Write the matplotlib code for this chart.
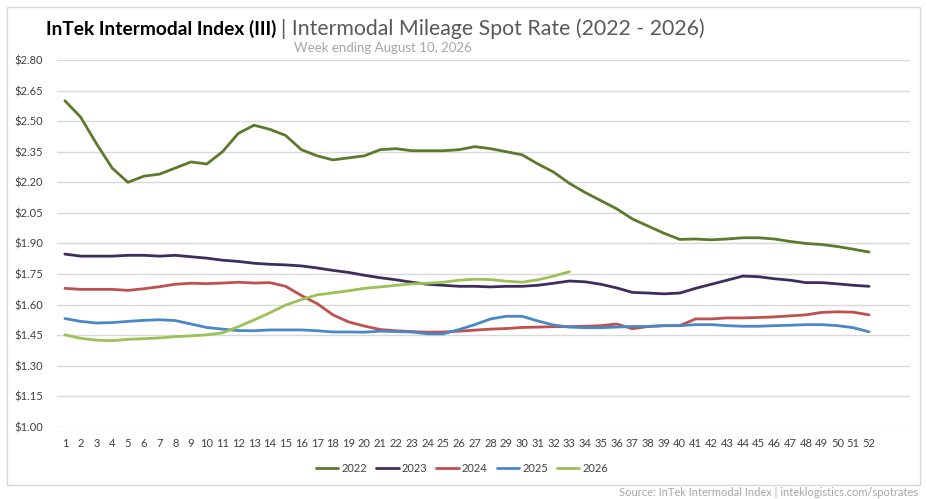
import matplotlib
matplotlib.use("Agg")
import matplotlib.pyplot as plt
from matplotlib.patches import Rectangle
from matplotlib.ticker import FuncFormatter

# weeks and yearly spot rates ($ per mile)
weeks = list(range(1, 53))

rate_2022 = [2.60, 2.52, 2.39, 2.27, 2.20, 2.23, 2.24, 2.27, 2.30, 2.29,
             2.35, 2.44, 2.48, 2.46, 2.43, 2.36, 2.33, 2.31, 2.32, 2.33,
             2.36, 2.365, 2.355, 2.355, 2.355, 2.36, 2.375, 2.365, 2.35, 2.335,
             2.29, 2.25, 2.195, 2.15, 2.11, 2.07, 2.02, 1.985, 1.95, 1.92,
             1.922, 1.918, 1.922, 1.928, 1.928, 1.922, 1.91, 1.90, 1.895, 1.885,
             1.872, 1.858]
rate_2023 = [1.848, 1.838, 1.838, 1.838, 1.842, 1.842, 1.838, 1.842, 1.835, 1.828,
             1.818, 1.812, 1.803, 1.798, 1.795, 1.79, 1.78, 1.768, 1.758, 1.744,
             1.732, 1.722, 1.71, 1.70, 1.695, 1.69, 1.69, 1.687, 1.69, 1.69,
             1.695, 1.705, 1.716, 1.712, 1.70, 1.682, 1.66, 1.657, 1.653, 1.657,
             1.68, 1.70, 1.72, 1.74, 1.737, 1.727, 1.72, 1.708, 1.708, 1.702,
             1.695, 1.69]
rate_2024 = [1.68, 1.675, 1.675, 1.675, 1.67, 1.678, 1.688, 1.70, 1.705, 1.703,
             1.706, 1.71, 1.706, 1.708, 1.69, 1.645, 1.605, 1.55, 1.515, 1.495,
             1.478, 1.472, 1.468, 1.465, 1.466, 1.47, 1.475, 1.48, 1.483, 1.488,
             1.49, 1.492, 1.492, 1.494, 1.497, 1.505, 1.482, 1.493, 1.497, 1.497,
             1.53, 1.53, 1.535, 1.535, 1.537, 1.54, 1.545, 1.55, 1.562, 1.565,
             1.563, 1.55]
rate_2025 = [1.532, 1.518, 1.51, 1.512, 1.518, 1.523, 1.526, 1.522, 1.505, 1.488,
             1.48, 1.473, 1.472, 1.476, 1.476, 1.476, 1.472, 1.466, 1.466, 1.465,
             1.47, 1.468, 1.466, 1.457, 1.457, 1.478, 1.502, 1.53, 1.543, 1.543,
             1.52, 1.50, 1.49, 1.487, 1.487, 1.49, 1.493, 1.493, 1.497, 1.497,
             1.502, 1.502, 1.497, 1.494, 1.494, 1.497, 1.499, 1.502, 1.502, 1.497,
             1.487, 1.467]
rate_2026 = [1.452, 1.435, 1.426, 1.423, 1.43, 1.433, 1.437, 1.443, 1.447, 1.452,
             1.462, 1.492, 1.525, 1.56, 1.598, 1.625, 1.648, 1.658, 1.668, 1.68,
             1.687, 1.695, 1.702, 1.705, 1.71, 1.72, 1.725, 1.723, 1.715, 1.71,
             1.722, 1.74, 1.762]

series = [("2022", rate_2022, "#5b7a2b"),
          ("2023", rate_2023, "#3e2d5c"),
          ("2024", rate_2024, "#c0504d"),
          ("2025", rate_2025, "#4a87c7"),
          ("2026", rate_2026, "#9bc157")]

yticks = [1.00, 1.15, 1.30, 1.45, 1.60, 1.75, 1.90, 2.05, 2.20, 2.35, 2.50, 2.65, 2.80]

plt.rcParams['font.family'] = ['Liberation Sans Narrow', 'Lato', 'DejaVu Sans']

fig = plt.figure(figsize=(9.28, 4.99), dpi=100)
ax = fig.add_axes([0.0614, 0.1443, 0.9192, 0.7355])

for name, vals, col in series:
    ax.plot(weeks[:len(vals)], vals, color=col, lw=2.0, label=name,
            solid_capstyle='round', solid_joinstyle='round')

ax.set_xlim(0.5, 54.6)
ax.set_ylim(1.00, 2.80)
ax.set_yticks(yticks)
ax.yaxis.set_major_formatter(FuncFormatter(lambda v, p: "${:.2f}".format(v)))
ax.set_xticks(weeks)
ax.set_xticklabels([str(w) for w in weeks])
ax.grid(axis='y', color='#d9d9d9', lw=1.0)
ax.set_axisbelow(True)
for s in ax.spines.values():
    s.set_visible(False)
ax.tick_params(axis='both', length=0, labelsize=8, colors='#404040', pad=8)
ax.tick_params(axis='y', pad=10)

leg = ax.legend(loc='upper center', bbox_to_anchor=(0.475, -0.07), ncol=5,
                frameon=False, fontsize=8, handlelength=2.0, handletextpad=0.3,
                columnspacing=0.8)
for t in leg.get_texts():
    t.set_color('#404040')

# outer border
fig.patches.append(Rectangle((7 / 928, 1 - 485 / 499), 913 / 928, 478 / 499,
                             transform=fig.transFigure, fill=False,
                             edgecolor='#d9d9d9', lw=1.0))

# title in two styles
t1 = fig.text(46 / 928, 1 - 29 / 499, "InTek Intermodal Index (III)",
              fontsize=13.8, fontweight='bold', color='#000000',
              family=['Lato', 'DejaVu Sans'], va='center', ha='left')
fig.canvas.draw()
bb = t1.get_window_extent()
fig.text(bb.x1 / 928 + 0.005, 1 - 29 / 499, "| Intermodal Mileage Spot Rate (2022 - 2026)",
         fontsize=15.3, color='#595959', family=['Lato', 'DejaVu Sans'],
         va='center', ha='left')
fig.text(383 / 928, 1 - 48 / 499, "Week ending August 10, 2026", fontsize=9.5,
         color='#a6a6a6', family=['Lato', 'DejaVu Sans'], va='center', ha='center')
fig.text(918 / 928, 1 - 492 / 499, "Source: InTek Intermodal Index | inteklogistics.com/spotrates",
         fontsize=8, color='#a6a6a6', va='center', ha='right')

fig.savefig("out.png", dpi=100)
